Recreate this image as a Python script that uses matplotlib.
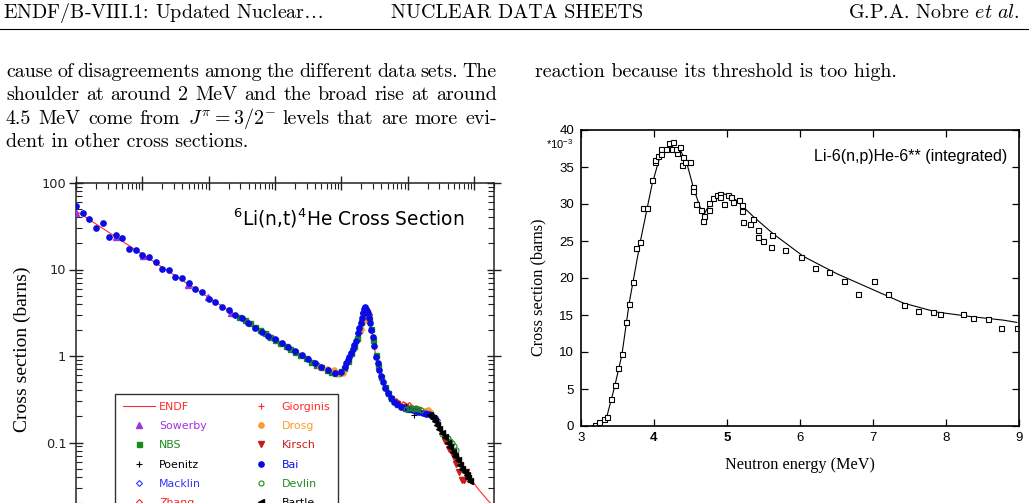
import matplotlib
matplotlib.use("Agg")
import matplotlib.pyplot as plt
import matplotlib.transforms as mtransforms
from matplotlib.lines import Line2D
from matplotlib.ticker import FuncFormatter, LogLocator, NullFormatter, MultipleLocator

W, H = 1029, 503

# ---- left panel: 6Li(n,t)4He, energy in MeV, cross section in barns
endf_e = [1e-5, 1e-4, 1e-3, 5e-3, 1e-2, 2e-2, 3e-2, 5e-2, 7e-2, 8.5e-2, 0.100, 0.118,
          0.132, 0.148, 0.165, 0.180, 0.198, 0.214, 0.225, 0.237, 0.250, 0.270, 0.296,
          0.332, 0.373, 0.418, 0.498, 0.627, 0.790, 1.05, 1.50, 2.10, 2.65, 3.00, 3.75,
          4.20, 5.30, 5.95, 8.40, 12.0, 16.8, 20.0]
endf_xs = [47.5, 15.0, 4.75, 2.13, 1.52, 1.10, 0.93, 0.75, 0.66, 0.64, 0.68, 0.80,
           0.98, 1.20, 1.45, 1.85, 2.40, 3.10, 3.55, 3.45, 3.05, 2.40, 1.67,
           0.98, 0.69, 0.51, 0.37, 0.30, 0.26, 0.245, 0.227, 0.213, 0.18, 0.145, 0.117,
           0.098, 0.075, 0.0686, 0.040, 0.028, 0.0207, 0.018]

bai_e = [1.0e-5, 1.26e-5, 1.58e-5, 2.0e-5, 2.51e-5, 3.16e-5, 3.98e-5, 5.01e-5, 6.31e-5, 7.94e-5,
         1.0e-4, 1.26e-4, 1.58e-4, 2.0e-4, 2.51e-4, 3.16e-4, 3.98e-4, 5.01e-4, 6.31e-4, 7.94e-4,
         1.0e-3, 1.26e-3, 1.58e-3, 2.0e-3, 2.51e-3, 3.16e-3, 3.98e-3, 5.01e-3, 6.31e-3, 7.94e-3,
         1.0e-2, 1.26e-2, 1.58e-2, 2.0e-2, 2.51e-2, 3.16e-2, 3.98e-2, 5.01e-2, 6.31e-2, 7.94e-2,
         0.100, 0.112, 0.118, 0.126, 0.132, 0.141, 0.150, 0.157, 0.166, 0.176,
         0.186, 0.198, 0.206, 0.214, 0.220, 0.225, 0.232, 0.240, 0.249, 0.260,
         0.270, 0.283, 0.296, 0.313, 0.332, 0.352, 0.373, 0.395, 0.418, 0.455,
         0.498, 0.560, 0.627, 0.700, 0.789, 0.900, 1.05, 1.20, 1.35, 1.49,
         1.70, 1.90, 2.10, 2.35, 2.60]
bai_xs = [54.2, 45.4, 38.0, 29.9, 34.2, 23.9, 24.8, 23.0, 17.4, 16.8,
          14.8, 13.8, 12.3, 10.2, 9.87, 8.26, 7.91, 7.03, 6.00, 5.54,
          4.60, 4.18, 3.72, 3.40, 2.96, 2.77, 2.43, 2.12, 1.90, 1.72,
          1.57, 1.40, 1.27, 1.15, 1.04, 0.93, 0.83, 0.75, 0.68, 0.635,
          0.66, 0.74, 0.82, 0.90, 0.98, 1.08, 1.20, 1.34, 1.50, 1.83,
          2.10, 2.39, 2.75, 3.12, 3.45, 3.66, 3.50, 3.35, 3.12, 2.75,
          2.39, 2.00, 1.67, 1.30, 0.98, 0.82, 0.69, 0.59, 0.505, 0.43,
          0.371, 0.33, 0.297, 0.275, 0.26, 0.252, 0.245, 0.238, 0.232, 0.227,
          0.22, 0.215, 0.213, 0.205, 0.19]

sowerby_e = [1.0e-5, 4.0e-5, 1.03e-4, 4.9e-4, 9.8e-4, 2.2e-3]
sowerby_xs = [45.0, 23.5, 14.3, 6.6, 4.8, 3.15]

nbs_e = [2.9e-3, 3.5e-3, 4.2e-3, 5.0e-3, 6.0e-3, 7.0e-3, 8.5e-3, 1.0e-2, 1.2e-2, 1.45e-2,
         1.7e-2, 2.0e-2, 2.4e-2, 2.9e-2, 3.5e-2, 4.2e-2, 5.0e-2, 6.0e-2, 7.0e-2, 8.0e-2,
         9.0e-2, 0.100, 0.110, 0.125, 0.140, 0.155, 0.170, 0.185, 0.200, 0.215,
         0.230, 0.245, 0.260, 0.280, 0.300, 0.330, 0.360, 0.400, 0.450, 0.500,
         0.560, 0.630, 0.700, 0.800, 0.900, 1.00]
nbs_xs = [2.85, 2.62, 2.38, 2.18, 2.00, 1.85, 1.68, 1.55, 1.42, 1.30,
          1.20, 1.12, 1.03, 0.94, 0.86, 0.79, 0.74, 0.69, 0.655, 0.63,
          0.64, 0.67, 0.73, 0.88, 1.08, 1.30, 1.60, 2.00, 2.50, 3.10,
          3.40, 3.20, 2.70, 2.05, 1.55, 1.02, 0.76, 0.57, 0.44, 0.37,
          0.33, 0.30, 0.28, 0.262, 0.25, 0.245]

poenitz_e = [0.95, 1.25]
poenitz_xs = [0.265, 0.21]

macklin_e = [1.9, 2.2, 2.5, 2.8]
macklin_xs = [0.22, 0.21, 0.195, 0.18]

zhang_e = [0.67, 0.85, 1.05]
zhang_xs = [0.30, 0.28, 0.27]

giorginis_e = [0.75, 0.9, 1.1]
giorginis_xs = [0.29, 0.27, 0.255]

drosg_e = [0.047, 0.060, 0.078, 0.090, 0.105, 0.198, 0.235, 1.8, 2.0, 2.2]
drosg_xs = [0.75, 0.70, 0.68, 0.64, 0.63, 2.04, 2.61, 0.232, 0.238, 0.228]

kirsch_e = [0.215, 0.235, 0.260, 0.70, 0.90, 1.20, 1.45, 3.6, 4.2, 4.5, 5.0, 5.3, 5.9, 6.7, 7.1, 7.5]
kirsch_xs = [3.0, 3.25, 2.8, 0.28, 0.26, 0.245, 0.24, 0.105, 0.083, 0.080, 0.068, 0.057, 0.046, 0.037, 0.0368, 0.045]

devlin_e = [0.95, 1.05, 1.15, 1.25, 1.35, 1.45, 1.60, 3.3, 3.7, 4.0, 4.3, 4.7, 5.0, 5.3]
devlin_xs = [0.245, 0.25, 0.248, 0.245, 0.25, 0.242, 0.24, 0.125, 0.12, 0.112, 0.105, 0.098, 0.09, 0.082]

bartle_e = [2.2, 2.4, 2.6, 2.8, 3.0, 3.3, 3.6, 4.0, 4.4, 4.8, 5.2, 5.7, 6.2, 6.7, 7.2, 7.7, 8.2, 8.7]
bartle_xs = [0.21, 0.19, 0.175, 0.16, 0.145, 0.13, 0.115, 0.10, 0.088, 0.078, 0.07, 0.062,
             0.055, 0.05, 0.046, 0.042, 0.039, 0.036]

# ---- right panel: Li-6(n,p)He-6, energy in MeV, cross section in units of 1e-3 b
np_e = [3.19, 3.25, 3.31, 3.36, 3.41, 3.46, 3.51, 3.56, 3.61, 3.66,
        3.71, 3.75, 3.81, 3.85, 3.91, 3.97, 4.01, 4.01, 4.05, 4.10,
        4.10, 4.16, 4.205, 4.256, 4.24, 4.31, 4.30, 4.36, 4.40, 4.38,
        4.43, 4.49, 4.54, 4.54, 4.58, 4.64, 4.67, 4.69, 4.75, 4.76,
        4.81, 4.86, 4.90, 4.91, 4.96, 5.01, 5.05, 5.08, 5.16, 5.21,
        5.21, 5.22, 5.31, 5.36, 5.42, 5.42, 5.50, 5.61, 5.60, 5.80,
        6.01, 6.21, 6.40, 6.60, 6.80, 7.01, 7.20, 7.42, 7.62, 7.82,
        7.92, 8.23, 8.37, 8.57, 8.76, 8.97]
np_xs = [0.14, 0.5, 0.95, 1.17, 3.7, 5.5, 7.8, 9.7, 14.1, 16.5,
         19.5, 24.0, 24.8, 29.4, 29.4, 33.2, 35.7, 35.9, 36.5, 37.5,
         36.8, 37.5, 38.2, 38.4, 37.5, 36.9, 37.4, 37.7, 36.4, 35.3,
         35.7, 35.7, 32.3, 31.8, 30.0, 29.2, 27.7, 28.4, 29.2, 30.1,
         30.8, 31.2, 31.4, 31.0, 30.0, 31.2, 30.9, 30.3, 30.6, 29.8,
         29.1, 27.6, 27.3, 28.0, 26.5, 25.6, 25.0, 25.8, 24.2, 23.8,
         22.9, 21.4, 20.8, 19.6, 17.8, 19.6, 17.8, 16.4, 15.5, 15.4,
         15.2, 15.1, 14.6, 14.4, 13.2, 13.3]
fit_e = [3.15, 3.26, 3.33, 3.36, 3.46, 3.56, 3.66, 3.81, 3.97, 4.08, 4.22, 4.36, 4.45,
         4.54, 4.63, 4.68, 4.77, 4.90, 4.97, 5.13, 5.36, 5.63, 6.05, 6.50, 6.96, 7.42,
         7.87, 8.33, 8.79, 8.97]
fit_xs = [0.0, 0.27, 0.7, 1.5, 5.3, 9.6, 16.6, 24.8, 32.5, 36.4, 37.8, 37.3, 35.5,
          32.2, 29.6, 28.5, 30.1, 31.2, 31.35, 30.5, 28.3, 26.0, 22.9, 20.6, 18.6, 16.6,
          15.4, 14.8, 14.3, 14.0]
np_ticks = [3, 4, 5, 6, 7, 8, 9]

fig = plt.figure(figsize=(W / 100, H / 100), dpi=100)
px = mtransforms.IdentityTransform()


def put(x, y, s, **kw):
    # place text in image pixel coordinates (y measured from the top)
    return fig.text(x, H - y, s, transform=px, **kw)


def justify(words, x0, x1, y, **kw):
    r = fig.canvas.get_renderer()
    ts = [put(0, y, w, **kw) for w in words]
    ws = [t.get_window_extent(r).width for t in ts]
    gap = (x1 - x0 - sum(ws)) / (len(words) - 1)
    x = x0
    for t, w in zip(ts, ws):
        t.set_x(x)
        x += w + gap


body = dict(family="cmr10", math_fontfamily="cm", size=14.4, color="black")

# page header
put(3, 18, r"ENDF/B-VIII.1: Updated Nuclear$\ldots$", **body)
put(391, 18, "NUCLEAR DATA SHEETS", **body)
put(1020, 18, r"G.P.A. Nobre $\mathit{et\ al.}$", ha="right", **body)
fig.add_artist(Line2D([0, W], [H - 29, H - 29], transform=px, color="black", lw=0.8))

# body text
justify("cause of disagreements among the different data sets. The".split(), 6, 497, 77, **body)
justify("shoulder at around 2 MeV and the broad rise at around".split(), 6, 497, 100.3, **body)
justify(["4.5", "MeV", "come", "from", r"$J^{\pi}=3/2^{-}$", "levels", "that", "are", "more", "evi-"],
        6, 497, 123.6, **body)
put(6, 147, "dent in other cross sections.", **body)
put(535, 77, "reaction because its threshold is too high.", **body)

# ---------------- left panel ----------------
ax1 = fig.add_axes([76 / W, 1 - 529 / H, 418 / W, 346 / H])
ax1.set_xscale("log")
ax1.set_yscale("log")

ax1.plot(endf_e, endf_xs, color="#ff2a2a", lw=0.8, zorder=2)
series = [
    ("NBS", nbs_e, nbs_xs, dict(marker="s", color="#1a8a1a", ms=3.6)),
    ("Sowerby", sowerby_e, sowerby_xs, dict(marker="^", color="#a033e0", ms=4)),
    ("Zhang", zhang_e, zhang_xs, dict(marker="D", mfc="none", color="#ff2020", ms=3, mew=0.8)),
    ("Giorginis", giorginis_e, giorginis_xs, dict(marker="+", color="#ff2a2a", ms=4, mew=0.8)),
    ("Drosg", drosg_e, drosg_xs, dict(marker="o", color="#ff9933", ms=3.8)),
    ("Kirsch", kirsch_e, kirsch_xs, dict(marker="v", color="#cc1a1a", ms=4)),
    ("Macklin", macklin_e, macklin_xs, dict(marker="D", mfc="none", color="#3333ff", ms=3, mew=0.8)),
    ("Poenitz", poenitz_e, poenitz_xs, dict(marker="+", color="black", ms=4, mew=0.8)),
    ("Bai", bai_e, bai_xs, dict(marker="o", color="#0a0ae6", ms=3.8)),
    ("Devlin", devlin_e, devlin_xs, dict(marker="o", mfc="none", color="#1e8c1e", ms=3.6, mew=0.8)),
    ("Bartle", bartle_e, bartle_xs, dict(marker="<", color="black", ms=4)),
]
handles = {"ENDF": Line2D([], [], color="#ff2a2a", lw=0.8)}
for name, e, xs, st in series:
    (h,) = ax1.plot(e, xs, ls="none", zorder=3, **st)
    handles[name] = h

ax1.set_xlim(1e-5, 20)
ax1.set_ylim(0.01, 100)
# the 0.01 decade lies below the visible page, so only 0.1 ... 100 get labels
ax1.yaxis.set_major_formatter(FuncFormatter(lambda v, p: f"{v:g}" if v > 0.05 else ""))
for a in (ax1.xaxis, ax1.yaxis):
    a.set_minor_locator(LogLocator(base=10, subs=range(2, 10), numticks=20))
    a.set_minor_formatter(NullFormatter())
ax1.tick_params(which="major", direction="inout", length=10, width=1, top=True, right=True,
                labelsize=9.3, pad=2, colors="#222222", labelbottom=False)
ax1.tick_params(which="minor", direction="in", length=4, width=0.8, top=True, right=True,
                colors="#222222")
for s in ax1.spines.values():
    s.set_linewidth(1.1)
    s.set_color("#222222")

order = ["ENDF", "Sowerby", "NBS", "Poenitz", "Macklin", "Zhang",
         "Giorginis", "Drosg", "Kirsch", "Bai", "Devlin", "Bartle"]
txt_colors = ["#ff2a2a", "#a033e0", "#1a8a1a", "black", "#3333ff", "#ff2020",
              "#ff2a2a", "#ff9933", "#cc1a1a", "#0a0ae6", "#1e8c1e", "black"]
leg = ax1.legend([handles[k] for k in order], order, ncol=2, loc="upper left",
                 bbox_to_anchor=(115, H - 394), bbox_transform=px, borderaxespad=0,
                 fontsize=7.9, frameon=True, fancybox=False, numpoints=1,
                 handlelength=2.95, handletextpad=0.37, labelspacing=0.85,
                 columnspacing=3.5, borderpad=0.7)
leg.get_frame().set_edgecolor("black")
leg.get_frame().set_linewidth(1.0)
for t, c in zip(leg.get_texts(), txt_colors):
    t.set_color(c)

put(233, 225, r"$^{\mathregular{6}}$Li(n,t)$^{\mathregular{4}}$He Cross Section",
    family="DejaVu Sans", size=13.4)
put(22, 349, "Cross section (barns)", family="Liberation Serif", size=14,
    rotation=90, ha="center", va="center")

# ---------------- right panel ----------------
ax2 = fig.add_axes([581 / W, 1 - 426 / H, 438 / W, 296 / H])
ax2.plot(fit_e, fit_xs, color="black", lw=0.8)
ax2.plot(np_e, np_xs, ls="none", marker="s", mfc="white", mec="black", ms=3.6, mew=0.8)
ax2.set_xlim(3, 9)
ax2.set_ylim(0, 40)
ax2.set_xticks(np_ticks)
xlabels = ax2.set_xticklabels([str(v) for v in np_ticks], family="Liberation Sans")
for lab in xlabels[1:3]:
    lab.set_fontweight("bold")
ax2.yaxis.set_major_locator(MultipleLocator(5))
ax2.tick_params(direction="in", length=5, width=0.9, top=True, right=True, labelsize=9.5)
ax2.tick_params(axis="x", pad=4)
ax2.tick_params(axis="y", pad=5)
for t in ax2.get_yticklabels():
    t.set_family("Liberation Sans")
for s in ax2.spines.values():
    s.set_linewidth(1.2)

put(573, 144, r"*10$^{\mathregular{-3}}$", family="Liberation Sans", size=8, ha="right", va="center")
put(1007, 157, "Li-6(n,p)He-6** (integrated)", family="Liberation Sans", size=11.5,
    ha="right", va="center")
put(800, 465, "Neutron energy (MeV)", family="Liberation Serif", size=11.7,
    ha="center", va="center")
put(538, 287, "Cross section (barns)", family="Liberation Serif", size=11.7,
    rotation=90, ha="center", va="center")

fig.savefig("out.png", dpi=100)
